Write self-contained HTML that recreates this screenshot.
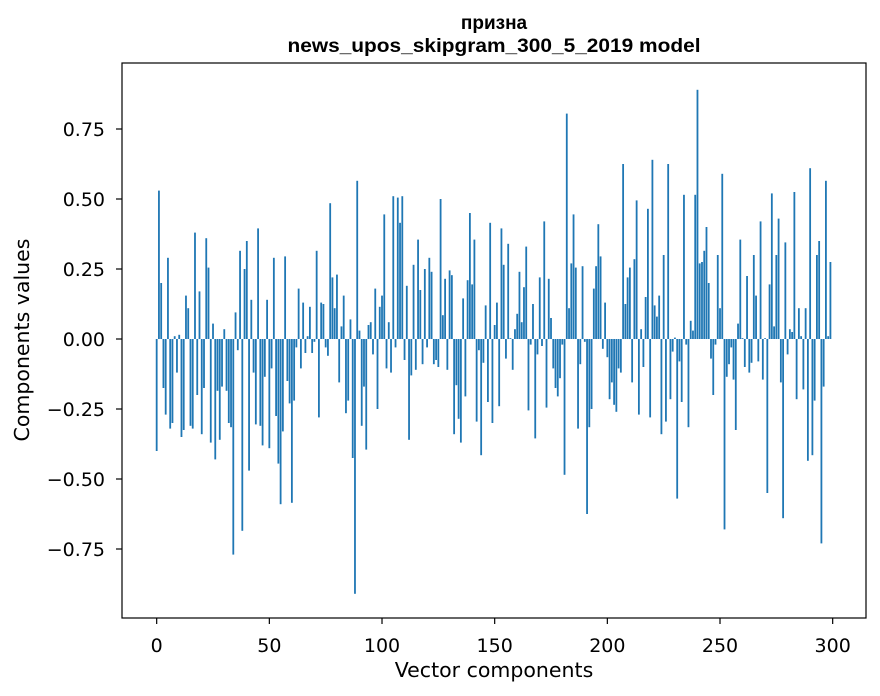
<!DOCTYPE html>
<html><head><meta charset="utf-8"><style>
body{margin:0;background:#fff;}
svg{display:block;font-family:"DejaVu Sans","Liberation Sans",sans-serif;}
</style></head><body>
<svg id="chart" width="880" height="696" viewBox="0 0 880 696" xmlns="http://www.w3.org/2000/svg">
<rect width="880" height="696" fill="#fff"/>
<text x="494" y="29" text-anchor="middle" font-size="19" font-weight="bold" font-family="Liberation Sans, sans-serif">призна</text>
<text x="494" y="52" text-anchor="middle" font-size="19" font-weight="bold" font-family="Liberation Sans, sans-serif" textLength="413" lengthAdjust="spacingAndGlyphs">news_upos_skipgram_300_5_2019 model</text>
<g id="bars"></g>
<g id="axes"></g>
<rect x="122" y="63" width="744" height="555" fill="none" stroke="#000" stroke-width="1.2"/>
<text x="494" y="677" text-anchor="middle" font-size="20.5">Vector components</text>
<text x="0" y="0" transform="translate(29,340) rotate(-90)" text-anchor="middle" font-size="20.5">Components values</text>
</svg>
<script>
const values = [
-0.40,0.53,0.20,-0.175,-0.27,0.29,-0.32,-0.30,0.01,-0.12,
0.015,-0.35,-0.325,0.155,0.11,-0.31,-0.32,0.38,-0.20,0.17,
-0.34,-0.175,0.36,0.255,-0.37,0.055,-0.43,-0.185,-0.36,-0.17,
0.035,-0.185,-0.30,-0.315,-0.77,0.095,-0.04,0.315,-0.685,0.25,
0.35,-0.47,0.14,-0.12,-0.305,0.395,-0.31,-0.38,-0.135,0.14,
-0.39,-0.105,0.29,-0.275,-0.445,-0.59,-0.33,0.295,-0.15,-0.23,
-0.585,-0.22,-0.03,0.18,-0.105,0.13,-0.05,0.01,0.115,-0.05,
-0.01,0.315,-0.28,0.13,0.125,-0.03,-0.06,0.485,0.22,0.11,
0.23,-0.155,0.045,0.155,-0.265,-0.22,0.07,-0.425,-0.91,0.565,
0.03,-0.31,-0.17,-0.395,0.05,0.06,-0.055,0.18,-0.25,0.115,
0.155,0.445,-0.105,0.06,-0.12,0.51,-0.03,0.505,0.415,0.51,
-0.075,0.19,-0.36,-0.13,0.265,-0.11,0.355,0.175,-0.09,0.25,
-0.03,0.29,0.24,-0.09,-0.075,-0.10,0.50,0.085,0.215,-0.11,
0.245,0.228,-0.34,-0.165,-0.285,-0.37,0.145,-0.205,0.21,0.45,
0.195,0.355,-0.295,-0.04,-0.415,-0.085,0.12,-0.225,0.415,-0.30,
0.05,0.13,-0.24,0.395,0.265,-0.07,0.34,0.003,-0.11,0.035,
0.09,0.24,0.06,0.185,0.33,-0.255,-0.02,0.125,-0.355,-0.055,
0.22,-0.025,0.42,-0.245,0.215,0.075,-0.105,-0.175,-0.205,-0.14,
-0.02,-0.485,0.805,0.11,0.27,0.445,0.255,-0.32,-0.09,0.26,
-0.01,-0.625,-0.315,-0.25,0.18,0.26,0.41,0.295,-0.035,0.13,
-0.065,-0.215,-0.155,-0.235,-0.26,-0.105,-0.12,0.625,0.125,0.22,
0.255,-0.155,0.285,0.495,-0.27,0.035,-0.10,0.15,0.465,-0.28,
0.64,0.12,0.08,0.155,-0.34,0.30,-0.295,0.625,-0.215,-0.045,
0.005,-0.57,-0.08,-0.225,0.515,-0.02,-0.315,0.065,0.03,0.515,
0.89,0.27,0.275,0.315,0.40,0.20,-0.07,-0.20,-0.02,0.30,
0.11,0.59,-0.68,-0.135,-0.09,-0.03,-0.145,-0.325,0.055,0.355,
0.003,-0.10,0.225,-0.12,-0.085,0.30,0.155,-0.08,0.42,-0.145,
0.003,-0.55,0.195,0.52,0.045,0.30,0.43,-0.155,-0.64,0.345,
-0.055,0.035,0.025,0.525,-0.215,0.11,0.01,-0.18,0.11,-0.435,
0.61,-0.415,-0.22,0.30,0.35,-0.73,-0.17,0.565,0.01,0.275
];
const xTicks = [0,50,100,150,200,250,300];
const yTicks = [-0.75,-0.5,-0.25,0,0.25,0.5,0.75];
const yTickLabels = ["\u22120.75","\u22120.50","\u22120.25","0.00","0.25","0.50","0.75"];

const NS = "http://www.w3.org/2000/svg";
const xMin = -15.39, xMax = 314.79, pl = 122, pr = 866;
function xs(v){ return pl + (v - xMin) * (pr - pl) / (xMax - xMin); }
function ys(v){ return 339 - v * 280; }
const bw = 0.8 * (pr - pl) / (xMax - xMin);

const gb = document.getElementById('bars');
values.forEach((v, i) => {
  const r = document.createElementNS(NS, 'rect');
  const y0 = ys(0), y1 = ys(v);
  r.setAttribute('x', xs(i) - bw / 2);
  r.setAttribute('y', Math.min(y0, y1));
  r.setAttribute('width', bw);
  r.setAttribute('height', Math.max(Math.abs(y1 - y0), 0.3));
  r.setAttribute('fill', '#1f77b4');
  
  
  gb.appendChild(r);
});

const ga = document.getElementById('axes');
xTicks.forEach(t => {
  const l = document.createElementNS(NS, 'line');
  l.setAttribute('x1', xs(t)); l.setAttribute('x2', xs(t));
  l.setAttribute('y1', 618); l.setAttribute('y2', 624);
  l.setAttribute('stroke', '#000'); l.setAttribute('stroke-width', '1.2');
  
  
  ga.appendChild(l);
  const tx = document.createElementNS(NS, 'text');
  tx.setAttribute('x', xs(t)); tx.setAttribute('y', 652);
  tx.setAttribute('text-anchor', 'middle'); tx.setAttribute('font-size', '19');
  tx.textContent = String(t);
  
  
  ga.appendChild(tx);
});
yTicks.forEach((t, i) => {
  const l = document.createElementNS(NS, 'line');
  l.setAttribute('x1', 116); l.setAttribute('x2', 122);
  l.setAttribute('y1', ys(t)); l.setAttribute('y2', ys(t));
  l.setAttribute('stroke', '#000'); l.setAttribute('stroke-width', '1.2');
  
  
  ga.appendChild(l);
  const tx = document.createElementNS(NS, 'text');
  tx.setAttribute('x', 105); tx.setAttribute('y', ys(t) + 7);
  tx.setAttribute('text-anchor', 'end'); tx.setAttribute('font-size', '19');
  tx.textContent = yTickLabels[i];
  
  
  ga.appendChild(tx);
});
</script>
</body></html>
